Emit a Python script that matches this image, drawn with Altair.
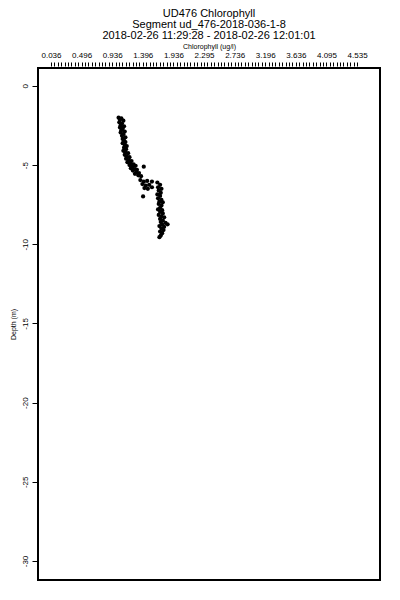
import json
import altair as alt
import pandas as pd

# Chlorophyll (ug/l) and depth (m)
chlorophyll = [1.03, 1.07, 1.05, 1.10, 1.04, 1.08, 1.06, 1.11, 1.05, 1.09, 1.07, 1.12, 1.06, 1.10,
               1.08, 1.13, 1.09, 1.11,
               1.13, 1.09, 1.12, 1.15, 1.11, 1.14, 1.10, 1.13, 1.17, 1.12,
               1.15, 1.19, 1.14, 1.18, 1.22, 1.16, 1.20, 1.25, 1.19, 1.23, 1.28, 1.21, 1.26, 1.30,
               1.24, 1.29, 1.33, 1.27, 1.32, 1.36,
               1.40,
               1.35, 1.40, 1.45, 1.38, 1.43, 1.48, 1.41, 1.46, 1.52, 1.39, 1.52,
               1.60, 1.64, 1.61, 1.66, 1.62, 1.65, 1.60, 1.64, 1.61, 1.66, 1.63, 1.68, 1.62, 1.66,
               1.64, 1.61, 1.67, 1.64, 1.68, 1.62, 1.66, 1.70, 1.64, 1.68, 1.65, 1.72, 1.67, 1.63,
               1.70, 1.75, 1.66, 1.69, 1.64, 1.67, 1.65, 1.63]
depth = [-2.01, -2.05, -2.14, -2.20, -2.30, -2.38, -2.50, -2.55, -2.62, -2.70, -2.80, -2.88, -2.95, -3.05,
         -3.15, -3.25, -3.35, -3.45,
         -3.55, -3.62, -3.72, -3.80, -3.90, -4.00, -4.10, -4.20, -4.25, -4.35,
         -4.45, -4.50, -4.60, -4.70, -4.75, -4.82, -4.90, -4.95, -5.00, -5.10, -5.05, -5.20, -5.25, -5.30,
         -5.35, -5.45, -5.50, -5.55, -5.65, -5.70,
         -5.10,
         -5.95, -6.05, -6.00, -6.20, -6.30, -6.25, -6.45, -6.50, -6.40, -6.98, -6.04,
         -6.10, -6.25, -6.40, -6.50, -6.60, -6.75, -6.85, -6.95, -7.10, -7.20, -7.30, -7.35, -7.45, -7.55,
         -7.70, -7.80, -7.85, -7.95, -8.05, -8.15, -8.25, -8.30, -8.40, -8.50, -8.60, -8.65, -8.75, -8.85,
         -8.90, -8.74, -9.00, -9.10, -9.20, -9.30, -9.45, -9.55]

x_labels = ["0.036", "0.496", "0.936", "1.396", "1.936", "2.295",
            "2.736", "3.196", "3.636", "4.095", "4.535"]
x_first, x_step = 0.036, 0.05
x_ticks = [round(x_first + x_step * j, 3) for j in range(91)]
y_ticks = [0, -5, -10, -15, -20, -25, -30]

title_lines = ["UD476 Chlorophyll",
               "Segment ud_476-2018-036-1-8",
               "2018-02-26 11:29:28 - 2018-02-26 12:01:01"]

df = pd.DataFrame({"chl": chlorophyll, "depth": depth})

label_expr = (
    f"(round((datum.value - {x_first}) / {x_step}) % 9 == 0) ? "
    f"{json.dumps(x_labels)}[round((datum.value - {x_first}) / {x_step}) / 9] : ''"
)

FONT = "Liberation Sans"

chart = alt.Chart(df).mark_circle(size=18, color="black", opacity=1).encode(
    x=alt.X("chl:Q",
            scale=alt.Scale(domain=[-0.155, 4.873], nice=False, zero=False),
            axis=alt.Axis(orient="top", values=x_ticks, labelExpr=label_expr,
                          title="Chlorophyll (ug/l)", titleFontSize=7, titleFontWeight="normal",
                          titleFont=FONT, titlePadding=2,
                          labelFont=FONT, labelFontSize=8, labelPadding=3,
                          labelOverlap=False, labelBound=False, labelFlush=False,
                          tickSize=4, tickColor="black", tickWidth=1, offset=2,
                          domain=False, grid=False, labelColor="black", titleColor="black")),
    y=alt.Y("depth:Q",
            scale=alt.Scale(domain=[-31.2, 1.13], nice=False, zero=False),
            axis=alt.Axis(orient="left", values=y_ticks, labelExpr="'' + datum.value",
                          title="Depth (m)", titleFontSize=7, titleFontWeight="normal",
                          titleFont=FONT, titlePadding=5,
                          labelFont=FONT, labelFontSize=8, labelAngle=270,
                          labelAlign="center", labelBaseline="bottom", labelPadding=3,
                          tickSize=5, tickColor="black", tickWidth=1, offset=1,
                          domain=False, grid=False, labelColor="black", titleColor="black")),
).properties(
    width=342, height=512,
    title=alt.TitleParams(text=title_lines, fontSize=11, font=FONT, fontWeight="normal",
                          anchor="middle", offset=1, lineHeight=11, color="black"),
    autosize=alt.AutoSizeParams(type="none"),
    padding={"left": 30, "top": 60, "right": 12, "bottom": 12},
).configure(background="white").configure_view(stroke="black", strokeWidth=2)

chart.save("out.html", embed_options={"renderer": "svg", "actions": False})
